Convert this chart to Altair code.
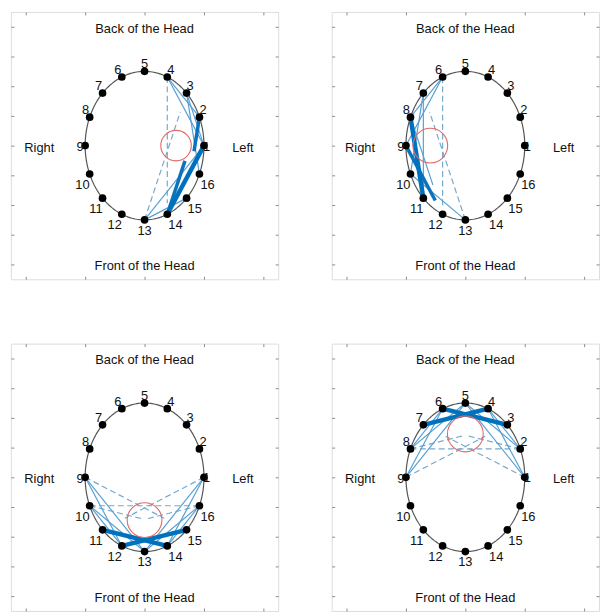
import altair as alt
import numpy as np
import pandas as pd

# ---------------- data ----------------
electrodes = list(range(1, 17))          # electrode numbers around the head
ellipse_ax, ellipse_ay = 1.0, 1.25       # head outline half-axes
x_ticks = [-2, -1, 0, 1, 2]
y_ticks = [-2, -1.5, -1, -0.5, 0, 0.5, 1, 1.5, 2]

# connections per panel: (from electrode, to electrode, reach along the line, kind)
panel1_links = [
    (4, 14, 0.92, "dashed"), (13, 3, 0.85, "dashed"),
    (4, 1, 1.0, "weak"), (4, 2, 1.0, "weak"), (3, 16, 1.0, "weak"),
    (13, 1, 1.0, "weak"), (13, 15, 1.0, "weak"), (3, 1, 1.0, "weak"),
    (14, 2, 0.55, "medium"), (2, 15, 0.42, "medium"),
    (14, 1, 1.0, "strong"),
]
panel2_links = [
    (6, 12, 0.95, "dashed"), (13, 7, 0.85, "dashed"),
    (6, 8, 1.0, "weak"), (6, 9, 1.0, "weak"), (7, 10, 1.0, "weak"),
    (7, 11, 1.0, "weak"), (13, 10, 1.0, "weak"), (8, 12, 0.7, "weak"),
    (9, 12, 0.8, "medium"),
    (8, 11, 1.0, "strong"),
]
panel3_links = [
    (9, 15, 0.78, "dashed"), (1, 11, 0.78, "dashed"), (10, 16, 1.0, "dashed"),
    (10, 15, 0.55, "dashed"), (16, 11, 0.55, "dashed"),
    (9, 12, 1.0, "weak"), (9, 13, 1.0, "weak"), (10, 13, 1.0, "weak"),
    (10, 12, 1.0, "weak"), (1, 14, 1.0, "weak"), (1, 13, 1.0, "weak"),
    (16, 13, 1.0, "weak"), (16, 14, 1.0, "weak"),
    (11, 14, 1.0, "strong"), (12, 15, 1.0, "strong"),
]
panel4_links = [
    (9, 3, 0.78, "dashed"), (1, 7, 0.78, "dashed"), (8, 2, 1.0, "dashed"),
    (8, 3, 0.55, "dashed"), (2, 7, 0.55, "dashed"),
    (9, 6, 1.0, "weak"), (9, 5, 1.0, "weak"), (8, 5, 1.0, "weak"),
    (8, 6, 1.0, "weak"), (1, 4, 1.0, "weak"), (1, 5, 1.0, "weak"),
    (2, 5, 1.0, "weak"), (2, 4, 1.0, "weak"),
    (7, 4, 1.0, "strong"), (6, 3, 1.0, "strong"),
]
links = [panel1_links, panel2_links, panel3_links, panel4_links]

# red circle (centre x, centre y, radius) per panel
circle_x = [0.53, -0.59, 0.0, 0.0]
circle_y = [0.0, 0.0, -0.72, 0.73]
circle_r = [0.29, 0.33, 0.33, 0.34]

side_texts = ["Back of the Head", "Front of the Head", "Right", "Left"]
side_x = [0, 0, -2, 1.5]
side_y = [2, -2, 0, 0]
side_align = ["center", "center", "left", "left"]

# ---------------- styling ----------------
GRAY = "#8a8a8a"
TEXT = "#111111"
FONT = "Liberation Sans"
PX = 60.0  # pixels per data unit (270 px / 4.5 units)
kind_width = {"dashed": 1.2, "weak": 1.2, "medium": 3.5, "strong": 4.5}
kind_color = {"dashed": "#78a9cc", "weak": "#58a0d3", "medium": "#0b72bb", "strong": "#0072BD"}

theta = np.deg2rad((np.array(electrodes) - 1) * 22.5)
ex = ellipse_ax * np.cos(theta)
ey = ellipse_ay * np.sin(theta)
pos = {k: (ex[i], ey[i]) for i, k in enumerate(electrodes)}


def label_group(k, c, s):
    if k == 1:
        return "r"
    if k == 9:
        return "l"
    if k == 5:
        return "tc"
    if k == 13:
        return "bc"
    if s > 0:
        return "ur" if c > 0 else "ul"
    return "lr" if c > 0 else "ll"


elec_df = pd.DataFrame({
    "k": electrodes, "x": ex, "y": ey,
    "grp": [label_group(k, np.cos(t), np.sin(t)) for k, t in zip(electrodes, theta)],
})
label_style = {
    "ur": dict(align="left", dx=0, dy=-7),
    "ul": dict(align="right", dx=-0.5, dy=-7),
    "tc": dict(align="center", dx=0, dy=-7.5),
    "lr": dict(align="left", dx=1, dy=11),
    "ll": dict(align="right", dx=0, dy=11),
    "bc": dict(align="center", dx=0, dy=11),
    "r": dict(align="left", dx=-1, dy=1),
    "l": dict(align="right", dx=-1.5, dy=1.5),
}

tt = np.linspace(0, 2 * np.pi, 241)
outline_df = pd.DataFrame({"i": np.arange(len(tt)),
                           "x": ellipse_ax * np.cos(tt), "y": ellipse_ay * np.sin(tt)})
side_df = pd.DataFrame({"t": side_texts, "x": side_x, "y": side_y, "a": side_align})

scale = alt.Scale(domain=[-2.25, 2.25], nice=False, zero=False)


def axis(orient, vals):
    return alt.Axis(orient=orient, values=vals, labels=False, domain=False, ticks=True,
                    tickSize=3, offset=-3, tickColor=GRAY, tickWidth=1, grid=False, title=None)


def panel(idx):
    rows = []
    for a, b, reach, kind in links[idx]:
        xa, ya = pos[a]
        xb, yb = pos[b]
        rows.append({"x": xa, "y": ya, "x2": xa + reach * (xb - xa), "y2": ya + reach * (yb - ya),
                     "kind": kind, "w": kind_width[kind], "c": kind_color[kind]})
    seg = pd.DataFrame(rows)

    X = alt.X("x:Q", scale=scale, axis=None)
    Y = alt.Y("y:Q", scale=scale, axis=None)

    outline = alt.Chart(outline_df).mark_line(color="#555555", strokeWidth=1.2).encode(
        x=alt.X("x:Q", scale=scale, axis=axis("bottom", x_ticks)),
        y=alt.Y("y:Q", scale=scale, axis=axis("left", y_ticks)),
        order="i:Q")

    sides = alt.Chart(side_df).mark_point(opacity=0).encode(
        x=alt.X("x:Q", scale=scale, axis=axis("top", x_ticks)),
        y=alt.Y("y:Q", scale=scale, axis=axis("right", y_ticks)))

    dashed = alt.Chart(seg).transform_filter(alt.datum.kind == "dashed").mark_rule(
        strokeDash=[6, 3.5]).encode(
        x=X, y=Y, x2="x2:Q", y2="y2:Q",
        strokeWidth=alt.StrokeWidth("w:Q", scale=None), color=alt.Color("c:N", scale=None))
    solid_weak = alt.Chart(seg).transform_filter(alt.datum.kind == "weak").mark_rule().encode(
        x=X, y=Y, x2="x2:Q", y2="y2:Q",
        strokeWidth=alt.StrokeWidth("w:Q", scale=None), color=alt.Color("c:N", scale=None))
    solid_strong = alt.Chart(seg).transform_filter(
        (alt.datum.kind == "medium") | (alt.datum.kind == "strong")).mark_rule(
        strokeCap="butt").encode(
        x=X, y=Y, x2="x2:Q", y2="y2:Q",
        strokeWidth=alt.StrokeWidth("w:Q", scale=None), color=alt.Color("c:N", scale=None))

    circ_df = pd.DataFrame({"x": [circle_x[idx]], "y": [circle_y[idx]],
                            "s": [np.pi * (circle_r[idx] * PX) ** 2]})
    circle = alt.Chart(circ_df).mark_point(shape="circle", filled=False, color="#e06a6a",
                                           strokeWidth=1.1, opacity=1).encode(
        x=X, y=Y, size=alt.Size("s:Q", scale=None))

    dots = alt.Chart(elec_df).mark_point(shape="circle", filled=True, color="#000000",
                                         size=60, opacity=1).encode(x=X, y=Y)

    label_layers = []
    for g, st in label_style.items():
        label_layers.append(
            alt.Chart(elec_df).transform_filter(alt.datum.grp == g).mark_text(
                baseline="middle", fontSize=13, font=FONT, color=TEXT, **st).encode(
                x=X, y=Y, text="k:N"))

    side_layers = []
    for al in ["center", "left"]:
        side_layers.append(
            alt.Chart(side_df).transform_filter(alt.datum.a == al).mark_text(
                align=al, baseline="middle", fontSize=13, font=FONT, color=TEXT,
                dy=2, dx=(-1.5 if al == "left" else 0)).encode(x=X, y=Y, text="t:N"))

    return alt.layer(outline, sides, dashed, solid_weak, solid_strong, circle, dots,
                     *label_layers, *side_layers).resolve_axis(
        x="independent", y="independent").properties(width=270, height=270)


top = alt.hconcat(panel(0), panel(1), spacing=52)
bottom = alt.hconcat(panel(2), panel(3), spacing=52)
chart = alt.vconcat(top, bottom, spacing=63).properties(
    padding={"left": 10, "top": 8, "right": 0, "bottom": 0}
).configure_view(stroke=GRAY, strokeWidth=1).configure(background="white")

chart.save("out.html", embed_options={"renderer": "svg", "actions": False})
